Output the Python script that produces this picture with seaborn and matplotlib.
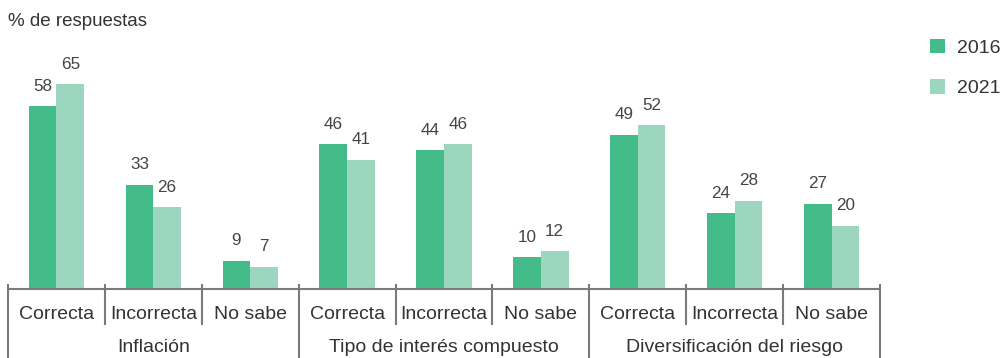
import matplotlib
matplotlib.use("Agg")
import matplotlib.pyplot as plt
import matplotlib.transforms as mtransforms
from matplotlib.patches import Patch
import seaborn as sns
import pandas as pd

groups = ["Inflación", "Tipo de interés compuesto", "Diversificación del riesgo"]
answers = ["Correcta", "Incorrecta", "No sabe"]
years = ["2016", "2021"]
values_2016 = [58, 33, 9, 46, 44, 10, 49, 24, 27]
values_2021 = [65, 26, 7, 41, 46, 12, 52, 28, 20]

colors = {"2016": "#43bc8a", "2021": "#9dd6bf"}
text_color = "#333333"
axis_color = "#7a7a7a"

cats = [f"{g}|{a}" for g in groups for a in answers]
rows = []
for c, v16, v21 in zip(cats, values_2016, values_2021):
    rows.append({"cat": c, "year": "2016", "value": v16})
    rows.append({"cat": c, "year": "2021", "value": v21})
df = pd.DataFrame(rows)

sns.set_style("white")
plt.rcParams["font.family"] = ["Liberation Sans", "DejaVu Sans"]

W, H = 1002, 358
fig = plt.figure(figsize=(W / 100, H / 100), dpi=100)
ax_h = 249
ax = fig.add_axes([8 / W, 69 / H, 872 / W, ax_h / H])

sns.barplot(data=df, x="cat", y="value", hue="year", order=cats,
            hue_order=years, palette=colors, width=0.57, gap=0,
            saturation=1, linewidth=0, legend=False, ax=ax)

for container in ax.containers:
    ax.bar_label(container, padding=9, fontsize=12.3, color="#444444")

n = len(cats)
ax.set_xlim(-0.5, n - 0.5)
ax.set_ylim(0, 79)
ax.set_xlabel("")
ax.set_ylabel("")
ax.set_yticks([])
for side in ["left", "right", "top"]:
    ax.spines[side].set_visible(False)
ax.spines["bottom"].set_color(axis_color)
ax.spines["bottom"].set_linewidth(1.5)

ax.set_xticks(range(n))
ax.set_xticklabels([a for g in groups for a in answers], fontsize=14,
                   color=text_color)
ax.tick_params(axis="x", length=0, pad=12)

trans = mtransforms.blended_transform_factory(ax.transData, ax.transAxes)
# separators: short ones between answers, long ones between topics
for i in range(n + 1):
    x = i - 0.5
    bottom = -36 / ax_h if i % 3 else -69 / ax_h
    ax.plot([x, x], [5 / ax_h, bottom], transform=trans, color=axis_color,
            lw=1.5, clip_on=False, solid_capstyle="butt")

for gi, g in enumerate(groups):
    ax.text(gi * 3 + 1, -59 / ax_h, g, transform=trans, ha="center",
            va="center", fontsize=14, color=text_color)

fig.text(8 / W, 1 - 21 / H, "% de respuestas", fontsize=13.5,
         color=text_color, va="center", ha="left")

handles = [Patch(facecolor=colors[y], edgecolor="none") for y in years]
fig.legend(handles, years, loc="upper left",
           bbox_to_anchor=(930 / W, 1 - 39 / H),
           frameon=False, fontsize=14, handlelength=0.77, handleheight=0.77,
           handletextpad=0.6, labelspacing=1.15, labelcolor=text_color,
           borderaxespad=0, borderpad=0)

fig.savefig("out.png", dpi=100)
